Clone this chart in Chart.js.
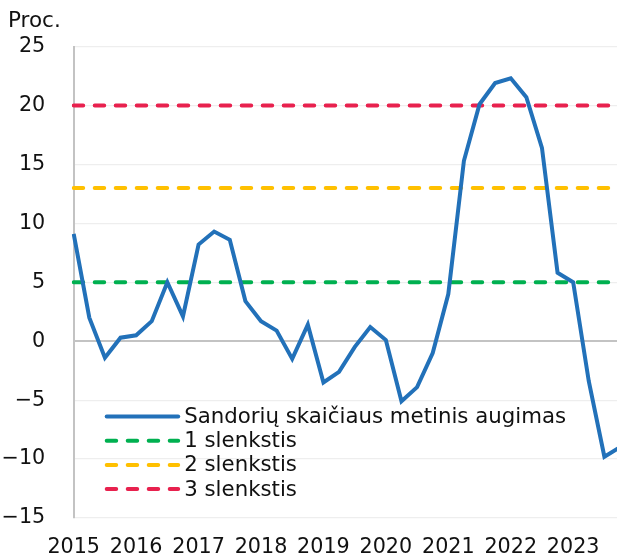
<!DOCTYPE html>
<html><head><meta charset="utf-8">
<script src="https://cdn.jsdelivr.net/npm/chart.js@4"></script>
<style>html,body{margin:0;padding:0;background:#fff;overflow:hidden}#wrap{width:617px;height:559px;overflow:hidden}</style>
</head><body><div id="wrap"><canvas id="c" width="620" height="559" style="width:620px;height:559px"></canvas></div>
<script>
const quarters = [
  '2015 Q1','2015 Q2','2015 Q3','2015 Q4',
  '2016 Q1','2016 Q2','2016 Q3','2016 Q4',
  '2017 Q1','2017 Q2','2017 Q3','2017 Q4',
  '2018 Q1','2018 Q2','2018 Q3','2018 Q4',
  '2019 Q1','2019 Q2','2019 Q3','2019 Q4',
  '2020 Q1','2020 Q2','2020 Q3','2020 Q4',
  '2021 Q1','2021 Q2','2021 Q3','2021 Q4',
  '2022 Q1','2022 Q2','2022 Q3','2022 Q4',
  '2023 Q1','2023 Q2','2023 Q3','2023 Q4'
];
const growth = [
  9.1, 2.0, -1.4, 0.3,
  0.5, 1.7, 5.0, 2.1,
  8.2, 9.3, 8.6, 3.4,
  1.7, 0.9, -1.5, 1.4,
  -3.5, -2.6, -0.5, 1.2,
  0.1, -5.1, -3.9, -1.0,
  4.0, 15.3, 20.1, 21.9,
  22.3, 20.7, 16.4, 5.8,
  5.0, -3.4, -9.8, -9.0
];
const thresholds = [5, 13, 20];
const seriesNames = ['Sandorių skaičiaus metinis augimas', '1 slenkstis', '2 slenkstis', '3 slenkstis'];
const yAxisTitle = 'Proc.';
const yMin = -15, yMax = 25, yStep = 5;

const FONT = 'DejaVu Sans';
const TXT = '#111111';
Chart.defaults.font.family = FONT;
Chart.defaults.color = TXT;

const threshColors = ['#00b050', '#ffc000', '#e8214e'];
const firstQ = quarters[0], lastQ = quarters[quarters.length - 1];

const datasets = [{
  label: seriesNames[0],
  data: growth,
  borderColor: '#2271b9',
  borderWidth: 4,
  pointRadius: 0,
  tension: 0,
  order: 0
}];
thresholds.forEach((t, i) => {
  datasets.push({
    label: seriesNames[i + 1],
    data: [{x: firstQ, y: t}, {x: lastQ, y: t}],
    borderColor: threshColors[i],
    borderWidth: 4,
    borderDash: [9.5, 11.5],
    borderCapStyle: 'round',
    pointRadius: 0,
    order: 1
  });
});

const extras = {
  id: 'extras',
  afterDraw(chart) {
    const ctx = chart.ctx, ca = chart.chartArea;
    ctx.save();
    ctx.fillStyle = TXT;
    ctx.font = '21.5px "' + FONT + '"';
    ctx.textAlign = 'left';
    ctx.textBaseline = 'alphabetic';
    ctx.fillText(yAxisTitle, 8, 26.5);
    // legend
    ctx.font = '21.3px "' + FONT + '"';
    const x0 = ca.left + 33, x1 = ca.left + 104.5, tx = ca.left + 110.5;
    let y = ca.bottom - 101.5;
    chart.data.datasets.forEach(ds => {
      ctx.beginPath();
      ctx.strokeStyle = ds.borderColor;
      ctx.lineWidth = ds.borderWidth;
      ctx.lineCap = 'round';
      ctx.setLineDash(ds.borderDash || []);
      ctx.moveTo(x0, y); ctx.lineTo(x1, y);
      ctx.stroke();
      ctx.setLineDash([]);
      ctx.fillStyle = TXT;
      ctx.textBaseline = 'middle';
      ctx.fillText(ds.label, tx, y + 1);
      y += 24.2;
    });
    ctx.restore();
  }
};

new Chart(document.getElementById('c'), {
  type: 'line',
  data: { labels: quarters, datasets },
  options: {
    responsive: false,
    animation: false,
    devicePixelRatio: 1,
    layout: { padding: { top: 46.5, left: 0, right: 0, bottom: 0 } },
    plugins: { legend: { display: false }, tooltip: { enabled: false }, title: { display: false } },
    scales: {
      x: {
        type: 'category',
        offset: false,
        grid: { display: false },
        border: { display: false },
        ticks: {
          autoSkip: false, maxRotation: 0, minRotation: 0,
          padding: 9,
          font: { size: 20.7 },
          color: TXT,
          callback: function (v, i) { const l = quarters[i]; return l.endsWith('Q1') ? l.slice(0, 4) : ''; }
        },
        afterFit(s) { s.height = 41; s.paddingRight = 0; s.paddingLeft = 0; }
      },
      y: {
        min: yMin, max: yMax,
        grid: {
          drawTicks: false,
          color: c => c.tick && c.tick.value === 0 ? '#c3c3c3' : '#eeeeee',
          lineWidth: c => c.tick && c.tick.value === 0 ? 2 : 1.2
        },
        border: { display: true, color: '#c3c3c3', width: 2 },
        ticks: {
          stepSize: yStep,
          padding: 28.5,
          font: { size: 20.7 },
          color: TXT,
          callback: v => String(v).replace('-', '\u2212')
        },
        afterFit(s) { s.width = 73.7; }
      }
    }
  },
  plugins: [extras]
});
</script>
</body></html>
